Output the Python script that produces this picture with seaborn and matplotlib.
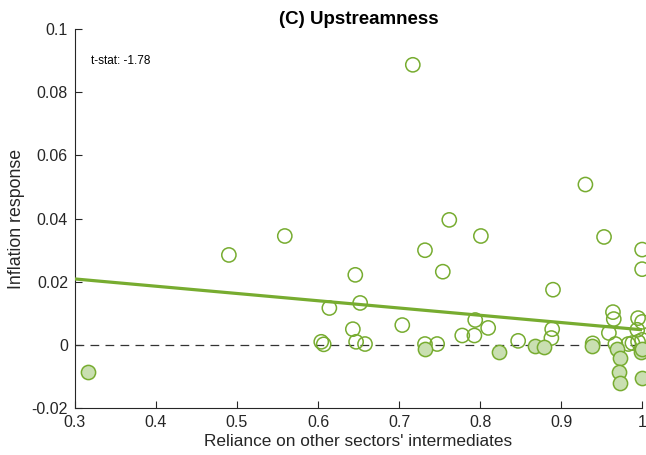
import matplotlib
matplotlib.use("Agg")
import matplotlib.pyplot as plt
import seaborn as sns
import pandas as pd
import numpy as np

# Data
reliance = [0.316, 0.490, 0.559, 0.614, 0.604, 0.607, 0.646, 0.652, 0.643, 0.647,
            0.658, 0.704, 0.717, 0.732, 0.732, 0.732, 0.747, 0.754, 0.762, 0.778,
            0.793, 0.794, 0.810, 0.801, 0.847, 0.823, 0.868, 0.879, 0.889, 0.888,
            0.890, 0.930, 0.939, 0.938, 0.953, 1.000, 1.000, 0.964, 0.965, 0.959,
            0.995, 1.000, 0.994, 0.988, 0.995, 1.000, 0.967, 0.983, 0.969, 0.973,
            0.972, 0.973, 0.998, 1.000, 1.000]
response = [-0.0085, 0.0285, 0.0345, 0.0117, 0.0010, 0.0002, 0.0222, 0.0133, 0.0050, 0.0010,
            0.0003, 0.0063, 0.0887, 0.0300, 0.0003, -0.0013, 0.0003, 0.0232, 0.0396, 0.0030,
            0.0030, 0.0079, 0.0054, 0.0345, 0.0013, -0.0022, -0.0003, -0.0006, 0.0050, 0.0022,
            0.0175, 0.0508, 0.0005, -0.0003, 0.0342, 0.0302, 0.0240, 0.0104, 0.0082, 0.0038,
            0.0085, 0.0073, 0.0048, 0.0006, 0.0010, 0.0016, 0.0003, 0.0003, -0.0013, -0.0042,
            -0.0085, -0.0120, -0.0021, -0.0013, -0.0105]

fit_x = [0.3, 1.0]
fit_y = [0.0209, 0.0048]

xticks = [0.3, 0.4, 0.5, 0.6, 0.7, 0.8, 0.9, 1.0]
xtick_labels = ["0.3", "0.4", "0.5", "0.6", "0.7", "0.8", "0.9", "1"]
yticks = [-0.02, 0.0, 0.02, 0.04, 0.06, 0.08, 0.1]
ytick_labels = ["-0.02", "0", "0.02", "0.04", "0.06", "0.08", "0.1"]

title = "(C) Upstreamness"
xlabel = "Reliance on other sectors' intermediates"
ylabel = "Inflation response"
tstat_text = "t-stat: -1.78"

sns.set_style("white")
plt.rcParams['font.family'] = ['Liberation Sans', 'DejaVu Sans']

green = "#77AC30"
light = "#C9DFB1"
axcol = "#262626"

df = pd.DataFrame({"x": reliance, "y": response})
pos = df[df.y >= 0]
neg = df[df.y < 0]

fig = plt.figure(figsize=(6.46, 4.55), dpi=100)
ax = fig.add_axes([0.116, 0.103, 0.878, 0.833])

ax.axhline(0, color="#333333", lw=0.9, ls=(0, (7, 5)), zorder=1)
sns.scatterplot(data=pos, x="x", y="y", ax=ax, s=105, facecolor="none",
                edgecolor=green, linewidth=1.1, zorder=3, clip_on=False)
sns.scatterplot(data=neg, x="x", y="y", ax=ax, s=105, color=light,
                edgecolor=green, linewidth=1.1, zorder=3, clip_on=False)
sns.lineplot(x=fit_x, y=fit_y, ax=ax, color=green, lw=2.3, zorder=4)

ax.set_xlim(0.3, 1.0)
ax.set_ylim(-0.02, 0.1)
ax.set_xticks(xticks)
ax.set_xticklabels(xtick_labels)
ax.set_yticks(yticks)
ax.set_yticklabels(ytick_labels)
ax.tick_params(direction="in", length=5, width=0.8, colors=axcol, labelsize=11.5,
               labelcolor=axcol, pad=5, bottom=True, left=True)
for side in ["top", "right"]:
    ax.spines[side].set_visible(False)
for side in ["left", "bottom"]:
    ax.spines[side].set_color(axcol)
    ax.spines[side].set_linewidth(0.8)

ax.set_xlabel(xlabel, fontsize=12.4, color=axcol, labelpad=3)
ax.set_ylabel(ylabel, fontsize=12.8, color=axcol, labelpad=5)
ax.set_title(title, fontsize=13.5, fontweight="bold", color="black", pad=4)
ax.text(0.028, 0.916, tstat_text, transform=ax.transAxes, fontsize=8.5, color="black",
        va="center", ha="left")

fig.savefig("out.png", dpi=100)
